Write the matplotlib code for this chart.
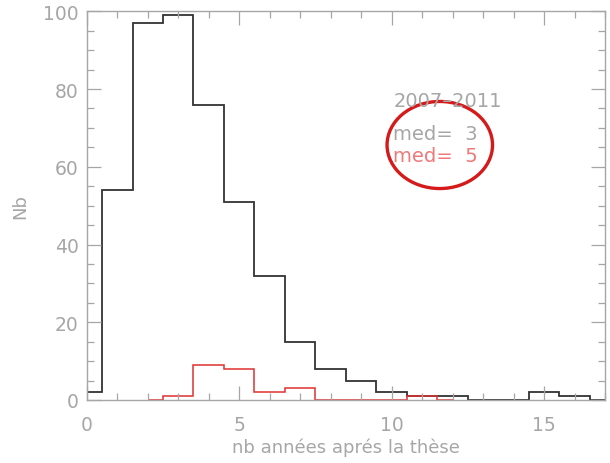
import numpy as np
import matplotlib
matplotlib.use("Agg")
import matplotlib.pyplot as plt
from matplotlib.patches import Ellipse

# years after the thesis (bin centres) and counts per bin
years_all = np.arange(0, 18)
counts_all = [2, 54, 97, 99, 76, 51, 32, 15, 8, 5, 2, 1, 1, 0, 0, 2, 1, 0]

years_sel = np.arange(2, 13)
counts_sel = [0, 1, 9, 8, 2, 3, 0, 0, 0, 1, 0]

period = "2007\u20132011"
med_all = 3
med_sel = 5

GRAY = "#a6a6a6"


def step_edges(centers):
    # psym=10 style: steps half way between centres, clipped to first/last centre
    c = np.asarray(centers, dtype=float)
    return np.concatenate([[c[0]], (c[:-1] + c[1:]) / 2, [c[-1]]])


fig = plt.figure(figsize=(6.1, 4.64), dpi=100)
ax = fig.add_axes([0.1423, 0.1358, 0.8495, 0.8377])

ax.stairs(counts_all, step_edges(years_all), baseline=None,
          color="#333333", lw=1.3)
ax.stairs(counts_sel, step_edges(years_sel), baseline=None,
          color="#e03030", lw=1.1)

ax.set_xlim(0, 17)
ax.set_ylim(0, 100)
ax.set_xticks([0, 5, 10, 15])
ax.set_xticks(np.arange(0, 18, 1), minor=True)
ax.set_yticks([0, 20, 40, 60, 80, 100])
ax.set_yticks(np.arange(0, 101, 5), minor=True)

for s in ax.spines.values():
    s.set_color(GRAY)
    s.set_linewidth(1.0)
ax.tick_params(which="both", direction="in", top=True, right=True,
               color=GRAY, labelcolor=GRAY, width=0.9)
ax.tick_params(which="major", length=10, labelsize=13.5)
ax.tick_params(axis="x", which="major", pad=11)
ax.tick_params(axis="y", which="major", pad=6)
ax.tick_params(which="minor", length=5)

ax.set_xlabel("nb années aprés la thèse", color=GRAY, fontsize=13, labelpad=2)
ax.set_ylabel("Nb", color=GRAY, fontsize=13, labelpad=10)

ax.text(10.05, 77.0, period, color=GRAY, fontsize=14, va="center", ha="left")
ax.text(10.05, 68.6, f"med=  {med_all}", color=GRAY, fontsize=14,
        va="center", ha="left")
ax.text(10.05, 62.9, f"med=  {med_sel}", color="#f07878", fontsize=14,
        va="center", ha="left")

# hand-drawn style highlight round the two medians
ax.add_patch(Ellipse((11.58, 65.6), 3.46, 22.4, fill=False,
                     edgecolor="#d41a1a", lw=2.4))

fig.savefig("out.png", dpi=100)
